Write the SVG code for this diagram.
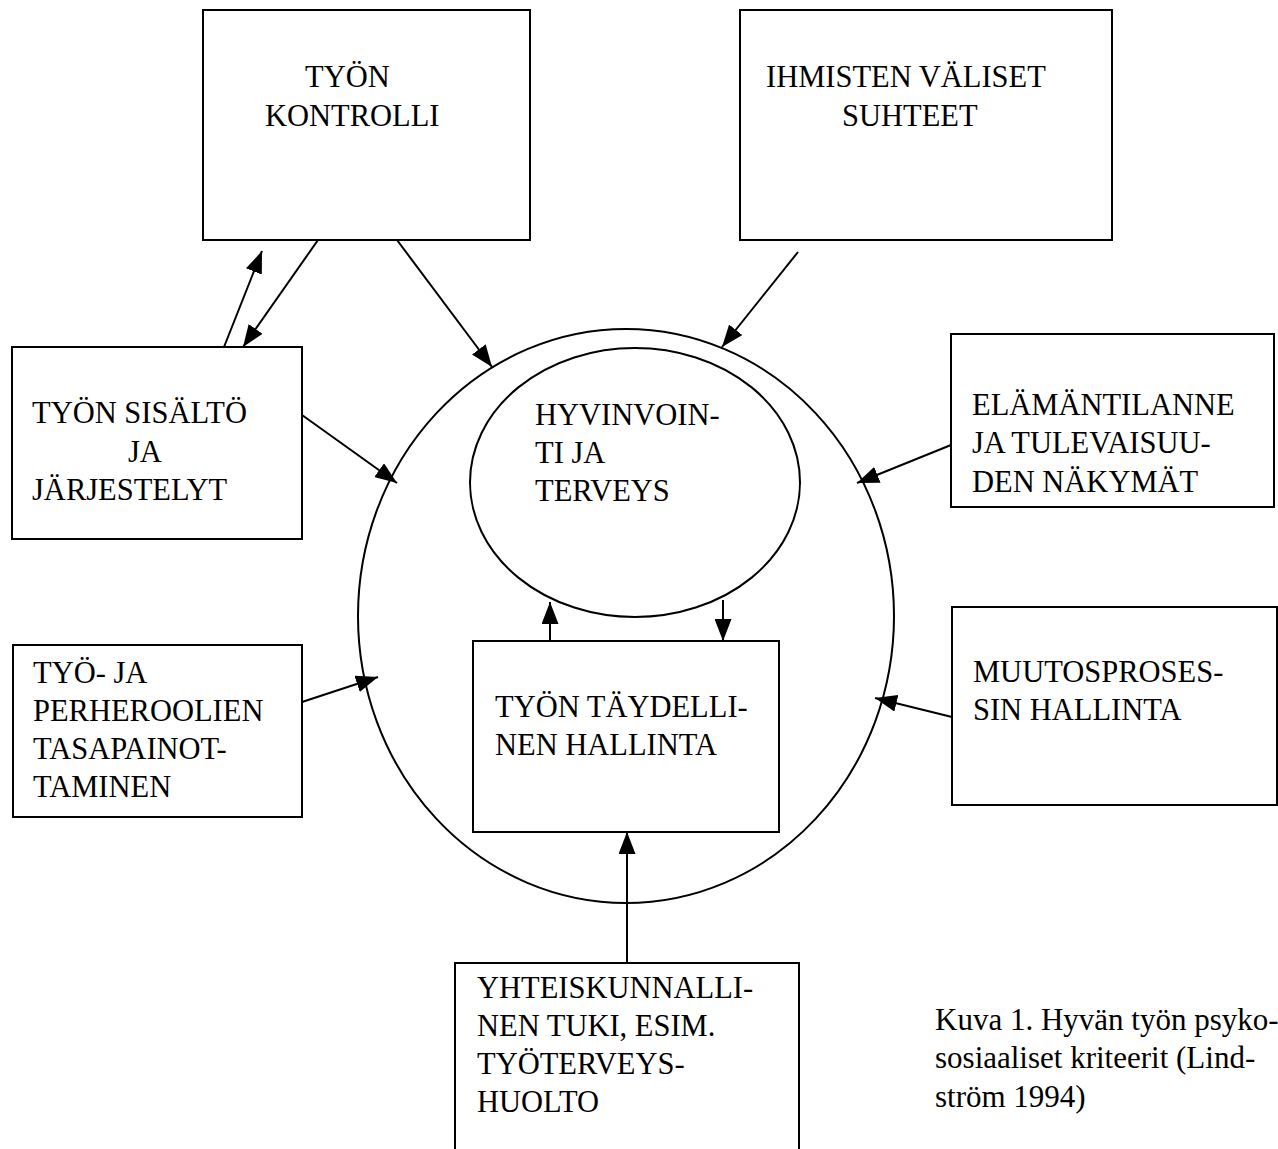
<svg xmlns="http://www.w3.org/2000/svg" width="1278" height="1149" viewBox="0 0 1278 1149">
<style>
.box{fill:#fff;stroke:#000;stroke-width:2}
.shape{fill:none;stroke:#000;stroke-width:2}
.t{font-family:"Liberation Serif","Times New Roman",serif;font-size:30.5px;fill:#000}
.cap{font-family:"Liberation Serif","Times New Roman",serif;font-size:31px;fill:#000}
.c{stroke:#000;stroke-width:2;fill:none;marker-end:url(#ah)}
</style>
<defs>
<marker id="ah" viewBox="0 0 22 17" markerWidth="22" markerHeight="17" refX="22" refY="8.5" orient="auto" markerUnits="userSpaceOnUse">
<path d="M0,0 L22,8.5 L0,17 z" fill="#000"/>
</marker>
</defs>
<rect width="1278" height="1149" fill="#fff"/>
<g id="outer-circle"><ellipse class="shape" cx="626" cy="616" rx="268" ry="287"/></g>
<g id="node-kontrolli"><rect class="box" x="203" y="10" width="327" height="230"/>
<text class="t" x="305" y="87">TYÖN</text><text class="t" x="265" y="126">KONTROLLI</text></g>
<g id="node-ihmiset"><rect class="box" x="740" y="10" width="372" height="230"/>
<text class="t" x="766" y="87">IHMISTEN VÄLISET</text><text class="t" x="842" y="126">SUHTEET</text></g>
<g id="node-sisalto"><rect class="box" x="12" y="347" width="290" height="192"/>
<text class="t" x="32" y="423">TYÖN SISÄLTÖ</text><text class="t" x="128" y="462">JA</text><text class="t" x="32" y="500">JÄRJESTELYT</text></g>
<g id="node-hyvinvointi"><ellipse class="shape" cx="635" cy="482.5" rx="165" ry="134.5"/>
<text class="t" x="535" y="425">HYVINVOIN-</text><text class="t" x="535" y="463">TI JA</text><text class="t" x="535" y="501">TERVEYS</text></g>
<g id="node-elamantilanne"><rect class="box" x="951" y="334" width="323" height="173"/>
<text class="t" x="972" y="415">ELÄMÄNTILANNE</text><text class="t" x="972" y="453">JA TULEVAISUU-</text><text class="t" x="972" y="492">DEN NÄKYMÄT</text></g>
<g id="node-perheroolit"><rect class="box" x="13" y="645" width="289" height="172"/>
<text class="t" x="33" y="683">TYÖ- JA</text><text class="t" x="33" y="721">PERHEROOLIEN</text><text class="t" x="33" y="759">TASAPAINOT-</text><text class="t" x="33" y="797">TAMINEN</text></g>
<g id="node-hallinta"><rect class="box" x="473" y="641" width="306" height="191"/>
<text class="t" x="495" y="717">TYÖN TÄYDELLI-</text><text class="t" x="495" y="755">NEN HALLINTA</text></g>
<g id="node-muutos"><rect class="box" x="952" y="607" width="325" height="198"/>
<text class="t" x="973" y="682">MUUTOSPROSES-</text><text class="t" x="973" y="720">SIN HALLINTA</text></g>
<g id="node-yhteiskunta"><path class="box" d="M455,1149 L455,963 L799,963 L799,1149"/>
<text class="t" x="477" y="998">YHTEISKUNNALLI-</text><text class="t" x="477" y="1036">NEN TUKI, ESIM.</text><text class="t" x="477" y="1074">TYÖTERVEYS-</text><text class="t" x="477" y="1112">HUOLTO</text></g>
<g id="caption"><text class="cap" x="935" y="1030">Kuva 1. Hyvän työn psyko-</text><text class="cap" x="935" y="1068">sosiaaliset kriteerit (Lind-</text><text class="cap" x="935" y="1107">ström 1994)</text></g>
<g id="connectors">
<line class="c" x1="224" y1="347" x2="262" y2="251"/>
<line class="c" x1="318" y1="240" x2="243" y2="347"/>
<line class="c" x1="397" y1="240" x2="492" y2="367"/>
<line class="c" x1="798" y1="252" x2="722" y2="347"/>
<line class="c" x1="302" y1="415" x2="397" y2="483"/>
<line class="c" x1="951" y1="445" x2="857" y2="483"/>
<line class="c" x1="302" y1="702" x2="378" y2="677"/>
<line class="c" x1="952" y1="717" x2="875" y2="698"/>
<line class="c" x1="550" y1="641" x2="550" y2="602"/>
<line class="c" x1="723" y1="600" x2="723" y2="641"/>
<line class="c" x1="627" y1="963" x2="627" y2="832"/>
</g>
</svg>
